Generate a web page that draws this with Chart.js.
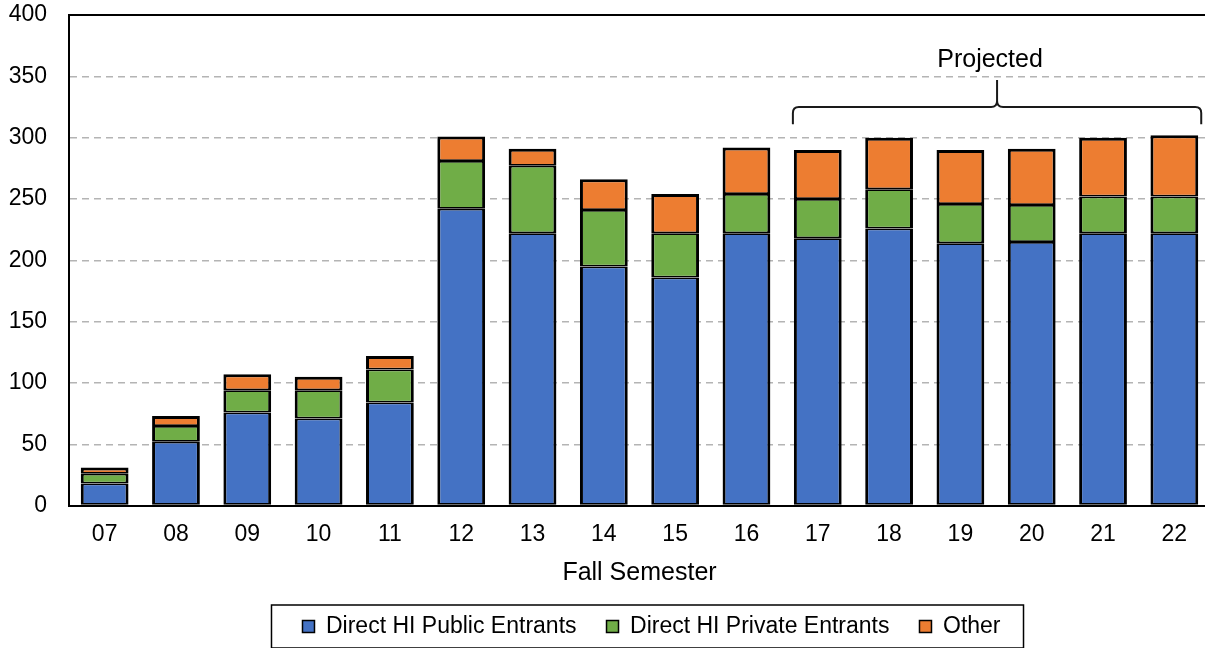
<!DOCTYPE html>
<html>
<head>
<meta charset="utf-8">
<title>Fall Semester entrants</title>
<script src="https://cdn.jsdelivr.net/npm/chart.js@4/dist/chart.umd.min.js"></script>
<style>
  html, body { margin: 0; padding: 0; background: #fff; overflow: hidden; }
  #wrap { position: relative; width: 1212px; height: 648px; }
</style>
</head>
<body>
<div id="wrap"><canvas id="chart"></canvas></div>
<script>
// chart data
const semesters = ['07', '08', '09', '10', '11', '12', '13', '14', '15', '16', '17', '18', '19', '20', '21', '22'];
const publicEntrants  = [18, 52, 76, 71, 84, 242, 222, 195, 186, 222, 218, 226, 214, 215, 222, 222];
const privateEntrants = [8, 13, 18, 23, 27, 39, 55, 46, 36, 32, 32, 32, 32, 30, 30, 30];
const otherEntrants   = [5, 8, 13, 11, 11, 20, 14, 25, 32, 38, 40, 42, 44, 46, 48, 50];
const yTicks = [0, 50, 100, 150, 200, 250, 300, 350, 400];

// projected range (first/last category) and brace levels in axis units
const projectedFrom = '17', projectedTo = '22';
const braceLevel = { line: 325, end: 311, tip: 347, label: 363 };

const FONT = '"Liberation Sans", Arial, sans-serif';
Chart.defaults.font.family = FONT;
Chart.defaults.color = '#000';


// top frame line, "Projected" brace, legend border
const extras = {
  id: 'extras',

  // nudge the legend right, like the original
  afterLayout(chart) {
    chart.legend.left += 12;
    chart.legend.right += 12;
  },

  afterDatasetsDraw(chart) {
    const { ctx, chartArea: a, scales: { x, y } } = chart;
    const bars = chart.getDatasetMeta(0).data;
    const i1 = semesters.indexOf(projectedFrom), i2 = semesters.indexOf(projectedTo);
    const half = bars[i1].width / 2;

    ctx.save();

    // top frame
    ctx.strokeStyle = '#000';
    ctx.lineWidth = 2;
    ctx.beginPath();
    ctx.moveTo(a.left, a.top);
    ctx.lineTo(a.right, a.top);
    ctx.stroke();

    // brace
    const x1 = x.getPixelForValue(i1) - half - 1;
    const x2 = x.getPixelForValue(i2) + half + 3;
    const cx = (x1 + x2) / 2;
    const yl = y.getPixelForValue(braceLevel.line);
    const ye = y.getPixelForValue(braceLevel.end);
    const yt = y.getPixelForValue(braceLevel.tip);
    const r = 6;

    ctx.strokeStyle = '#1a1a1a';
    ctx.lineWidth = 2;
    ctx.beginPath();
    ctx.moveTo(x1, ye);
    ctx.lineTo(x1, yl + r);
    ctx.quadraticCurveTo(x1, yl, x1 + r, yl);
    ctx.lineTo(cx - r, yl);
    ctx.quadraticCurveTo(cx, yl, cx, yl - r);
    ctx.lineTo(cx, yt);
    ctx.moveTo(cx, yl - r);
    ctx.quadraticCurveTo(cx, yl, cx + r, yl);
    ctx.lineTo(x2 - r, yl);
    ctx.quadraticCurveTo(x2, yl, x2, yl + r);
    ctx.lineTo(x2, ye);
    ctx.stroke();

    ctx.fillStyle = '#000';
    ctx.font = '25px ' + FONT;
    ctx.textAlign = 'center';
    ctx.textBaseline = 'middle';
    ctx.fillText('Projected', cx - 7, y.getPixelForValue(braceLevel.label));

    ctx.restore();
  },

  afterDraw(chart) {
    const hb = chart.legend.legendHitBoxes;
    if (!hb || !hb.length) return;
    const last = hb[hb.length - 1];
    const left = hb[0].left - 31;
    const right = last.left + last.width + 23;
    const cy = hb[0].top + hb[0].height / 2;
    const { ctx } = chart;
    ctx.save();
    ctx.strokeStyle = '#000';
    ctx.lineWidth = 1.5;
    ctx.strokeRect(left, cy - 21.5, right - left, 43);
    ctx.restore();
  }
};


// bar dataset (segment joins share one ~3.5px line, outer edges 3px)
function series(label, data, color, topEdge) {
  return {
    label,
    data,
    backgroundColor: color,
    borderColor: '#000',
    borderWidth: { top: topEdge, bottom: 1.75, left: 3, right: 3 },
    borderSkipped: false,
    inflateAmount: 0,
    barPercentage: 0.67,
    categoryPercentage: 1
  };
}


new Chart(document.getElementById('chart'), {
  type: 'bar',
  data: {
    labels: semesters,
    datasets: [
      series('Direct HI Public Entrants', publicEntrants, '#4472C4', 1.75),
      series('Direct HI Private Entrants', privateEntrants, '#70AD47', 1.75),
      series('Other', otherEntrants, '#ED7D31', 3)
    ]
  },
  options: {
    responsive: true,
    maintainAspectRatio: false,
    animation: false,
    layout: { padding: { top: 15, right: 2, left: 0, bottom: 0 } },
    plugins: {
      tooltip: { enabled: false },
      legend: {
        position: 'bottom',
        fullSize: false,
        labels: {
          boxWidth: 12,
          boxHeight: 12,
          padding: 30,
          color: '#000',
          font: { size: 23 },
          generateLabels(chart) {
            return Chart.defaults.plugins.legend.labels.generateLabels(chart)
              .map(l => Object.assign(l, { lineWidth: 1.5 }));
          }
        }
      }
    },
    scales: {
      x: {
        stacked: true,
        grid: { display: false, drawTicks: false },
        border: { display: true, color: '#000', width: 2 },
        ticks: { padding: 15, font: { size: 23 }, color: '#000' },
        title: {
          display: true,
          text: 'Fall Semester',
          font: { size: 25 },
          color: '#000',
          padding: { top: 0, bottom: -3 }
        },
        afterFit(s) { s.height = 79.4; }
      },
      y: {
        stacked: true,
        min: 0,
        max: 400,
        afterBuildTicks(s) { s.ticks = yTicks.map(v => ({ value: v })); },
        grid: {
          drawTicks: true,
          tickLength: 22,
          tickColor: 'rgba(0,0,0,0)',
          color: c => (c.tick.value === 0 || c.tick.value === 400) ? 'rgba(0,0,0,0)' : '#b4b4b4',
          lineWidth: 1.5
        },
        border: { display: true, color: '#000', width: 2, dash: [7, 5] },
        ticks: { padding: 0, font: { size: 23 }, color: '#000' },
        afterFit(s) { s.width = 69; }
      }
    }
  },
  plugins: [extras]
});
</script>
</body>
</html>
